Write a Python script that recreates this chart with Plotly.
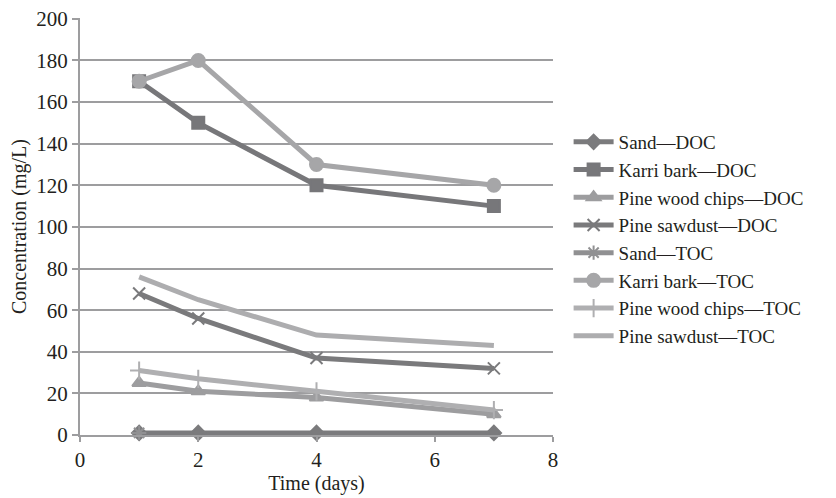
import plotly.graph_objects as go

time_days = [1, 2, 4, 7]
series_names = ["Sand—DOC", "Karri bark—DOC", "Pine wood chips—DOC", "Pine sawdust—DOC",
                "Sand—TOC", "Karri bark—TOC", "Pine wood chips—TOC", "Pine sawdust—TOC"]
sand_doc = [1, 1, 1, 1]
karri_doc = [170, 150, 120, 110]
pine_chips_doc = [25, 21, 18, 10]
pine_sawdust_doc = [68, 56, 37, 32]
sand_toc_x = [1]
sand_toc = [1]
karri_toc = [170, 180, 130, 120]
pine_chips_toc = [31, 27, 21, 12]
pine_sawdust_toc = [76, 65, 48, 43]

specs = [
    (time_days, sand_doc, "#7b7b7d", "diamond", 11),
    (time_days, karri_doc, "#77777a", "square", 12),
    (time_days, pine_chips_doc, "#9d9d9f", "triangle-up", 12),
    (time_days, pine_sawdust_doc, "#7a7a7c", "x-thin-open", 12),
    (sand_toc_x, sand_toc, "#909092", "asterisk-open", 12),
    (time_days, karri_toc, "#a6a6a8", "circle", 13),
    (time_days, pine_chips_toc, "#afafb1", "cross-thin-open", 13),
    (time_days, pine_sawdust_toc, "#adadaf", None, 0),
]

fig = go.Figure()
for i, (name, (xs, ys, col, sym, sz)) in enumerate(zip(series_names, specs)):
    if sym is None:
        mode = "lines"
        marker = None
    else:
        mode = "lines+markers"
        marker = dict(symbol=sym, size=sz, color=col, line=dict(color=col, width=2))
    fig.add_trace(go.Scatter(x=xs, y=ys, name=name, mode=mode,
                             line=dict(color=col, width=5),
                             marker=marker, cliponaxis=False))

fnt = "Liberation Serif, Times New Roman, serif"
fig.update_layout(
    width=828, height=490,
    margin=dict(l=72, r=283, t=10, b=63),
    plot_bgcolor="white", paper_bgcolor="white",
    font=dict(family=fnt, size=21, color="#231f20"),
    showlegend=True,
    legend=dict(x=1.033, y=0.47, xanchor="left", yanchor="middle",
                font=dict(family=fnt, size=19, color="#231f20"),
                itemwidth=40),
    xaxis=dict(range=[0, 8], tickvals=[0, 2, 4, 6, 8], showgrid=False, zeroline=False,
               showline=True, linecolor="#9d9d9f", linewidth=2, automargin=False,
               ticks="outside", ticklen=5, tickcolor="#9d9d9f", tickwidth=2,
               ticklabeloverflow="allow",
               title=dict(text="Time (days)", font=dict(size=20), standoff=2)),
    yaxis=dict(range=[0, 200.4], tickvals=list(range(0, 201, 20)), showgrid=True,
               gridcolor="#9d9d9f", gridwidth=2, zeroline=False, automargin=False,
               showline=True, linecolor="#9d9d9f", linewidth=2,
               ticks="outside", ticklen=6, tickcolor="#9d9d9f", tickwidth=2,
               ticklabeloverflow="allow",
               title=dict(text="Concentration (mg/L)", font=dict(size=20), standoff=6)),
)
fig.write_html("out.html")
